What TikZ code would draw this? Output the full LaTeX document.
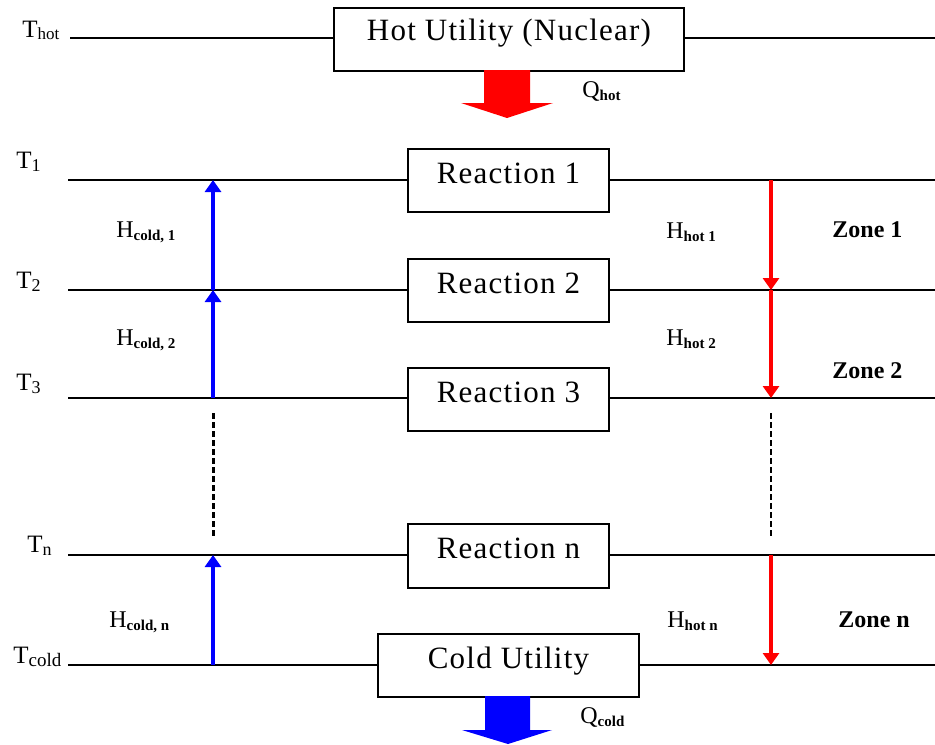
\documentclass[tikz,border=0pt]{standalone}
\usepackage{fontspec}
\setmainfont{Liberation Serif}
\newfontfamily\boxfont[LetterSpace=4]{Liberation Serif}
\usetikzlibrary{arrows.meta}
\newcommand\lsub[2]{\raisebox{-1.5pt}{\fontsize{#1}{#1}\selectfont #2}}
\begin{document}
\begin{tikzpicture}[x=0.5pt,y=-0.5pt,
  proc/.style={draw, line width=1pt, anchor=north west, inner xsep=0pt, inner ysep=0pt, font=\boxfont\fontsize{15.5}{19}\selectfont},
  hline/.style={line width=1pt},
  tlabel/.style={anchor=base west, inner sep=0pt, font=\fontsize{12.5}{14}\selectfont},
  hlabel/.style={anchor=base west, inner sep=0pt, font=\fontsize{12}{14}\selectfont},
  zlabel/.style={anchor=base west, inner sep=0pt, font=\bfseries\fontsize{12}{14}\selectfont},
  coldarrow/.style={draw=blue, line width=2pt, -{Triangle[width=8pt,length=6pt]}},
  hotarrow/.style={draw=red, line width=2pt, -{Triangle[width=8pt,length=6pt]}},
  gap/.style={dash pattern=on 3pt off 1.5pt}
]
\useasboundingbox (0,0) rectangle (935,744);

% boxes
\node[proc, minimum width=175pt, text height=16pt, text depth=15.5pt] (hot) at (333,7) {Hot Utility (Nuclear)};
\node[proc, minimum width=100.5pt, text height=17pt, text depth=14.5pt] (r1) at (407,148) {Reaction 1};
\node[proc, minimum width=100.5pt, text height=17pt, text depth=14.5pt] (r2) at (407,258) {Reaction 2};
\node[proc, minimum width=100.5pt, text height=17pt, text depth=14.5pt] (r3) at (407,367) {Reaction 3};
\node[proc, minimum width=100.5pt, text height=17pt, text depth=15pt] (rn) at (407,523) {Reaction n};
\node[proc, minimum width=130.5pt, text height=17pt, text depth=14.5pt] (cold) at (377,633) {Cold Utility};

% line end coordinates
\coordinate (sh) at (70,38);  \coordinate (eh) at (935,38);
\coordinate (s1) at (68,180); \coordinate (e1) at (935,180);
\coordinate (s2) at (68,290); \coordinate (e2) at (935,290);
\coordinate (s3) at (68,398); \coordinate (e3) at (935,398);
\coordinate (sn) at (68,555); \coordinate (en) at (935,555);
\coordinate (sc) at (68,665); \coordinate (ec) at (935,665);

\foreach \s/\b/\e in {sh/hot/eh, s1/r1/e1, s2/r2/e2, s3/r3/e3, sn/rn/en, sc/cold/ec}{
  \draw[hline] (\s) -- (\s -| \b.west);
  \draw[hline] (\s -| \b.east) -- (\e);
}

% temperature labels
\node[tlabel] (thot) at (22,37) {T\lsub{8.5}{hot}};
\node[tlabel] (t1) at (16,168) {T\lsub{9}{1}};
\node[tlabel] (t2) at (16,288) {T\lsub{9}{2}};
\node[tlabel] (t3) at (16,390) {T\lsub{9}{3}};
\node[tlabel] (tn) at (27,552) {T\lsub{9}{n}};
\node[tlabel] (tc) at (13,663) {T\lsub{9.5}{cold}};

% heat flow arrows
\coordinate (b1) at (213,180); \coordinate (b2) at (213,290); \coordinate (b3) at (213,398);
\coordinate (bn) at (213,555); \coordinate (bc) at (213,665);
\coordinate (bd1) at (213,413); \coordinate (bd2) at (213,538);
\draw[coldarrow] (b2) -- (b1);
\draw[coldarrow] (b3) -- (b2);
\draw[coldarrow] (bc) -- (bn);
\draw[gap, line width=1.5pt] (bd1) -- (bd2);

\coordinate (h1) at (771,180); \coordinate (h2) at (771,290); \coordinate (h3) at (771,398);
\coordinate (hn) at (771,555); \coordinate (hc) at (771,665);
\coordinate (hd1) at (771,413); \coordinate (hd2) at (771,538);
\draw[hotarrow] (h1) -- (h2);
\draw[hotarrow] (h2) -- (h3);
\draw[hotarrow] (hn) -- (hc);
\draw[gap, line width=1pt] (hd1) -- (hd2);

% H labels
\node[hlabel] (hc1) at (116,237) {H\lsub{7.5}{\bfseries cold, 1}};
\node[hlabel] (hc2) at (116,345) {H\lsub{7.5}{\bfseries cold, 2}};
\node[hlabel] (hcn) at (109,627) {H\lsub{7.5}{\bfseries cold, n}};
\node[hlabel] (hh1) at (666,238) {H\lsub{7.5}{\bfseries hot 1}};
\node[hlabel] (hh2) at (666,345) {H\lsub{7.5}{\bfseries hot 2}};
\node[hlabel] (hhn) at (667,627) {H\lsub{7.5}{\bfseries hot n}};

% zones
\node[zlabel] (z1) at (832,237) {Zone 1};
\node[zlabel] (z2) at (832,378) {Zone 2};
\node[zlabel] (zn) at (838,627) {Zone n};

% utility block arrows
\fill[red] (484,70) -- (530,70) -- (530,103) -- (553,103) -- (507,118) -- (461,103) -- (484,103) -- cycle;
\fill[blue] (485,696) -- (530,696) -- (530,730) -- (552,730) -- (508,744) -- (462,730) -- (485,730) -- cycle;
\node[hlabel] (qh) at (582,97) {Q\lsub{7.5}{\bfseries hot}};
\node[hlabel] (qc) at (580,723) {Q\lsub{7.5}{\bfseries cold}};
\end{tikzpicture}
\end{document}
